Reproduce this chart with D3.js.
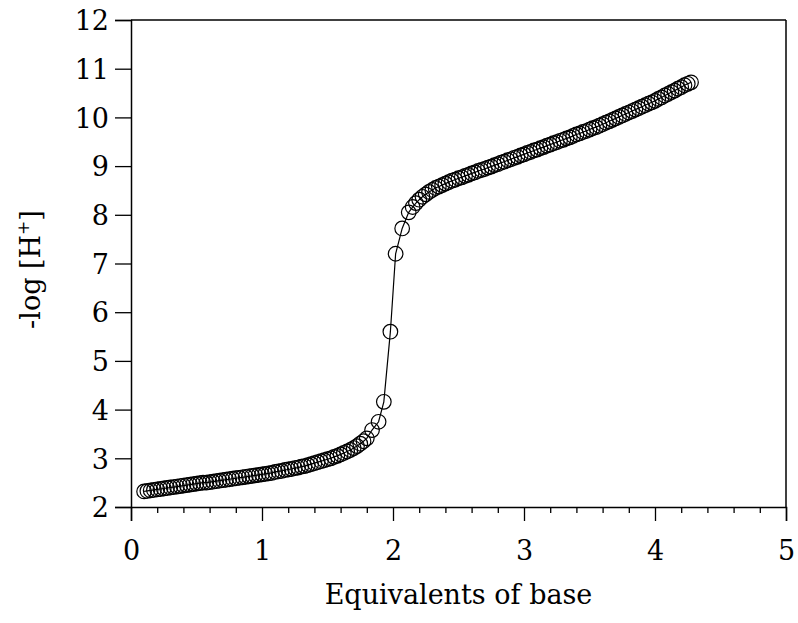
<!DOCTYPE html>
<html>
<head>
<meta charset="utf-8">
<script src="https://cdn.jsdelivr.net/npm/d3@7"></script>
<style>
  body { margin: 0; background: #fff; }
  text { font-family: "DejaVu Serif", serif; fill: #000; }
</style>
</head>
<body>
<div id="wrap"></div>
<script>
// equivalents of base added
var equiv = [
  0.100,0.125,0.150,0.175,0.200,0.225,0.250,0.275,0.300,0.325,
  0.350,0.375,0.400,0.425,0.450,0.475,0.500,0.525,0.550,0.575,
  0.600,0.625,0.650,0.675,0.700,0.725,0.750,0.775,0.800,0.825,
  0.850,0.875,0.900,0.925,0.950,0.975,1.000,1.025,1.050,1.075,
  1.100,1.125,1.150,1.175,1.200,1.225,1.250,1.275,1.300,1.325,
  1.350,1.375,1.400,1.425,1.450,1.475,1.500,1.525,1.550,1.575,
  1.600,1.625,1.650,1.675,1.700,1.725,1.750,1.775,1.800,
  1.84,1.89,1.93,1.98,2.02,2.07,2.12,
  2.150,2.175,2.200,2.225,2.250,2.275,2.300,2.325,2.350,2.375,
  2.400,2.425,2.450,2.475,2.500,2.525,2.550,2.575,2.600,2.625,
  2.650,2.675,2.700,2.725,2.750,2.775,2.800,2.825,2.850,2.875,
  2.900,2.925,2.950,2.975,3.000,3.025,3.050,3.075,3.100,3.125,
  3.150,3.175,3.200,3.225,3.250,3.275,3.300,3.325,3.350,3.375,
  3.400,3.425,3.450,3.475,3.500,3.525,3.550,3.575,3.600,3.625,
  3.650,3.675,3.700,3.725,3.750,3.775,3.800,3.825,3.850,3.875,
  3.900,3.925,3.950,3.975,4.000,4.025,4.050,4.075,4.100,4.125,
  4.150,4.175,4.200,4.225,4.250,4.275];
// -log[H+]
var pH = [
  2.32,2.33,2.34,2.35,2.36,2.37,2.38,2.39,2.40,2.41,
  2.42,2.43,2.44,2.45,2.46,2.47,2.48,2.49,2.50,2.50,
  2.51,2.52,2.53,2.54,2.55,2.56,2.57,2.58,2.59,2.60,
  2.61,2.62,2.63,2.64,2.65,2.66,2.67,2.68,2.69,2.70,
  2.72,2.73,2.74,2.76,2.77,2.78,2.80,2.81,2.83,2.84,
  2.86,2.88,2.90,2.92,2.94,2.96,2.98,3.00,3.03,3.05,
  3.08,3.11,3.14,3.17,3.21,3.25,3.30,3.35,3.41,
  3.58,3.75,4.16,5.60,7.20,7.72,8.05,
  8.16,8.24,8.31,8.37,8.42,8.47,8.51,8.55,8.58,8.61,
  8.64,8.67,8.70,8.72,8.75,8.77,8.80,8.82,8.85,8.87,
  8.90,8.92,8.94,8.97,8.99,9.02,9.04,9.07,9.09,9.12,
  9.14,9.17,9.19,9.22,9.24,9.27,9.29,9.32,9.34,9.37,
  9.39,9.42,9.44,9.47,9.49,9.52,9.54,9.57,9.59,9.62,
  9.65,9.67,9.70,9.72,9.75,9.78,9.80,9.83,9.86,9.89,
  9.92,9.95,9.98,10.01,10.04,10.07,10.10,10.13,10.16,10.19,
  10.22,10.25,10.28,10.31,10.34,10.38,10.41,10.45,10.48,10.52,
  10.55,10.59,10.62,10.66,10.69,10.72];

var xTicks = [0,1,2,3,4,5];
var yTicks = [2,3,4,5,6,7,8,9,10,11,12];

var margin = {top: 20, right: 12, bottom: 116, left: 131},
    width = 786 - margin.left,
    height = 507 - margin.top;

var svg = d3.select('#wrap').append('svg')
    .attr('width', 798)
    .attr('height', 623);

var g = svg.append('g')
    .attr('transform', 'translate(' + margin.left + ',' + margin.top + ')');

var x = d3.scaleLinear().domain([0,5]).range([0,width]),
    y = d3.scaleLinear().domain([2,12]).range([height,0]);

var data = equiv.map(function(d,i){ return [d, pH[i]]; });

// frame: top and right
g.append('line').attr('x1',0).attr('x2',width).attr('y1',0).attr('y2',0)
  .attr('stroke','#000').attr('stroke-width',1.5);
g.append('line').attr('x1',width).attr('x2',width).attr('y1',0).attr('y2',height)
  .attr('stroke','#000').attr('stroke-width',1.5);

// x axis
var xAxis = g.append('g')
    .attr('transform','translate(0,' + height + ')')
    .call(d3.axisBottom(x).tickValues(xTicks).tickSize(14).tickPadding(20).tickFormat(d3.format('d')));
g.append('g')
    .attr('transform','translate(0,' + height + ')')
    .call(d3.axisBottom(x).tickValues(d3.range(0,5.01,0.2).filter(function(v){return Math.abs(v-Math.round(v))>0.01;}))
      .tickSize(6).tickFormat(''))
    .select('.domain').remove();

// y axis
var yAxis = g.append('g')
    .call(d3.axisLeft(y).tickValues(yTicks).tickSize(16).tickPadding(6).tickFormat(d3.format('d')));

[xAxis, yAxis].forEach(function(a){
  a.selectAll('text').style('font-size','27px').style('font-family','"DejaVu Serif", serif').attr('fill','#000');
  a.select('.domain').attr('stroke-width',1.5);
});
g.selectAll('.tick line').attr('stroke-width',1.3);
yAxis.selectAll('text').attr('dy','0.36em');

// fitted line
g.append('path')
  .datum(data)
  .attr('fill','none')
  .attr('stroke','#000')
  .attr('stroke-width',1.2)
  .attr('d', d3.line().x(function(d){return x(d[0]);}).y(function(d){return y(d[1]);}));

// data points
g.selectAll('.dot')
  .data(data)
  .enter().append('circle')
    .attr('class','dot')
    .attr('r',7.3)
    .attr('fill','none')
    .attr('stroke','#000')
    .attr('stroke-width',1.2)
    .attr('cx',function(d){return x(d[0]);})
    .attr('cy',function(d){return y(d[1]);});

// axis titles
svg.append('text')
  .attr('x', margin.left + width/2)
  .attr('y', 604)
  .attr('text-anchor','middle')
  .style('font-size','27px')
  .text('Equivalents of base');

var yt = svg.append('text')
  .attr('transform','translate(40,' + (margin.top + height/2 + 6) + ') rotate(-90)')
  .attr('text-anchor','middle')
  .style('font-size','27px');
yt.append('tspan').text('-log [H');
yt.append('tspan').attr('dy','-11').style('font-size','17px').text('+');
yt.append('tspan').attr('dy','11').text(']');
</script>
</body>
</html>
